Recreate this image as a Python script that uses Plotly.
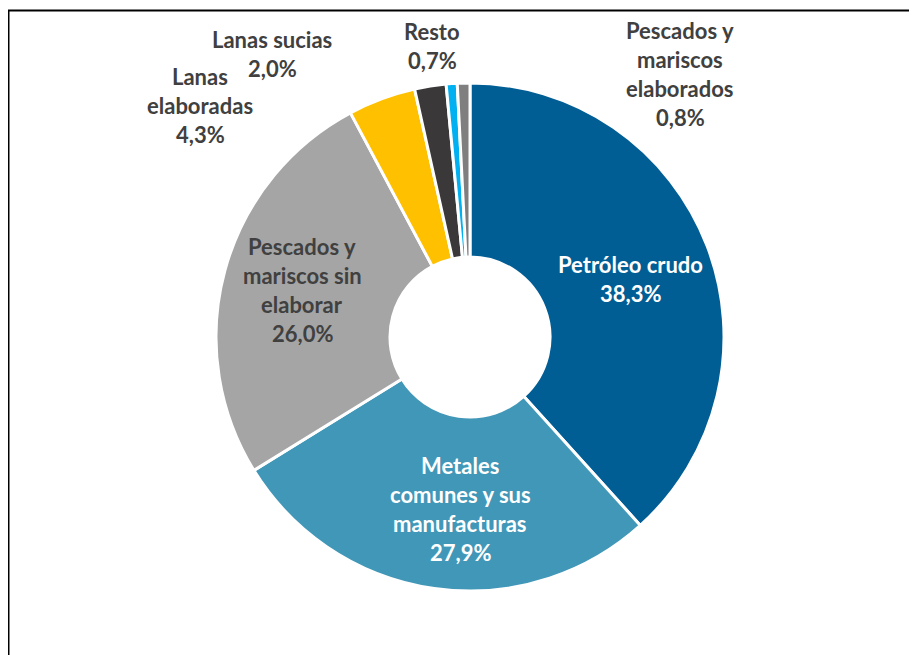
import plotly.graph_objects as go

categories = [
    "Petróleo crudo",
    "Metales comunes y sus manufacturas",
    "Pescados y mariscos sin elaborar",
    "Lanas elaboradas",
    "Lanas sucias",
    "Resto",
    "Pescados y mariscos elaborados",
]
values = [38.3, 27.9, 26.0, 4.3, 2.0, 0.7, 0.8]
colors = ["#005E95", "#4197B7", "#A5A5A5", "#FFC000", "#3A3838", "#00B0F0", "#7F7F7F"]

# label text lines (category split as drawn) and label styling
label_lines = [
    ["Petróleo crudo"],
    ["Metales", "comunes y sus", "manufacturas"],
    ["Pescados y", "mariscos sin", "elaborar"],
    ["Lanas", "elaboradas"],
    ["Lanas sucias"],
    ["Resto"],
    ["Pescados y", "mariscos", "elaborados"],
]
label_colors = ["white", "white", "#404040", "#404040", "#404040", "#404040", "#404040"]
# label block centres in page pixels (x, y from top)
label_pos = [(630, 278), (460, 508), (302, 289), (200, 104), (272, 53), (432, 45), (680, 73)]

W, H = 917, 655
OX, OY = 8, 7  # page body margin offset
cx, cy, R = 470 - OX, 336 - OY, 254
LINE = 29

fig = go.Figure(go.Pie(
    labels=categories,
    values=values,
    sort=False,
    direction="clockwise",
    rotation=0,
    hole=0.315,
    marker=dict(colors=colors, line=dict(color="white", width=3)),
    textinfo="none",
    hoverinfo="label+percent",
    domain=dict(x=[(cx - R) / W, (cx + R) / W], y=[(H - cy - R) / H, (H - cy + R) / H]),
    showlegend=False,
))

annotations = []
for lines, val, col, (px, py) in zip(label_lines, values, label_colors, label_pos):
    all_lines = lines + [f"{val:.1f}%".replace(".", ",")]
    n = len(all_lines)
    for i, t in enumerate(all_lines):
        y = py - OY + (i - (n - 1) / 2) * LINE
        annotations.append(dict(
            x=(px - OX) / W, y=1 - y / H, xref="paper", yref="paper",
            text=t, showarrow=False, xanchor="center", yanchor="middle",
            font=dict(family="Lato", size=22, color=col, weight="bold"),
        ))

fig.update_layout(
    width=W, height=H,
    margin=dict(l=0, r=0, t=0, b=0),
    paper_bgcolor="white",
    plot_bgcolor="white",
    annotations=annotations,
    shapes=[dict(type="rect", xref="paper", yref="paper",
                 x0=0.5 / W, x1=1.2, y0=-0.2, y1=1 - 2.5 / H,
                 line=dict(color="black", width=2))],
)

fig.write_html("out.html")
